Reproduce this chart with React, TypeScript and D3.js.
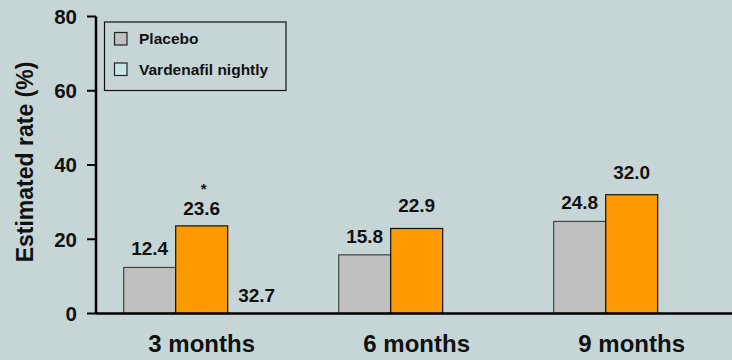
import React from "react";
import * as d3 from "d3";

// Estimated rate (%) by visit, placebo vs. vardenafil nightly
const categories = ["3 months", "6 months", "9 months"];
const seriesNames = ["Placebo", "Vardenafil nightly"];
const placebo = [12.4, 15.8, 24.8];
const vardenafil = [23.6, 22.9, 32.0];
const yTicks = [0, 20, 40, 60, 80];
const extraNote = { category: "3 months", text: "32.7" };
const significance = { category: "3 months", series: "Vardenafil nightly", mark: "*" };

const W = 732;
const H = 360;
const BG = "#c6d6d6";
const barColors = ["#c0c0c0", "#ff9900"];
const legendColors = ["#c0c0c0", "#c8e6e6"];
const FONT = "'Liberation Sans', Arial, Helvetica, sans-serif";

// vertical lift of each value label above its bar, per series
const labelLift = [12, 16];

export default function App() {
  const axisX = 96;
  const y = d3.scaleLinear().domain([0, 80]).range([313.5, 16.5]);
  const x = d3.scaleBand<string>().domain(categories).range([68.2, 713.2]);
  const groupHalf = 52;
  const inner = d3
    .scaleBand<string>()
    .domain(seriesNames)
    .range([-groupHalf, groupHalf]);
  const center = (c: string) => (x(c) ?? 0) + x.bandwidth() / 2;
  const values = [placebo, vardenafil];

  return (
    <svg
      width={W}
      height={H}
      style={{ position: "absolute", left: 0, top: 0, display: "block" }}
      fontFamily={FONT}
    >
      <rect x={0} y={0} width={W} height={H} fill={BG} />

      {/* bars */}
      {seriesNames.map((s, si) =>
        categories.map((c, ci) => {
          const v = values[si][ci];
          const bx = center(c) + (inner(s) ?? 0);
          return (
            <rect
              key={s + c}
              x={bx}
              y={y(v)}
              width={inner.bandwidth()}
              height={y(0) - y(v)}
              fill={barColors[si]}
              stroke={si === 0 ? "#444" : "#111"}
              strokeWidth={1.2}
            />
          );
        })
      )}

      {/* value labels */}
      {seriesNames.map((s, si) =>
        categories.map((c, ci) => {
          const v = values[si][ci];
          const cx = center(c) + (inner(s) ?? 0) + inner.bandwidth() / 2;
          const lift =
            significance.category === c && significance.series === s ? 11 : labelLift[si];
          return (
            <text
              key={"l" + s + c}
              x={cx}
              y={y(v) - lift}
              textAnchor="middle"
              fontSize={19}
              fontWeight="bold"
              fill="#111"
            >
              {v.toFixed(1)}
            </text>
          );
        })
      )}

      {/* significance marker */}
      {(() => {
        const si = seriesNames.indexOf(significance.series);
        const ci = categories.indexOf(significance.category);
        const cx =
          center(significance.category) + (inner(significance.series) ?? 0) + inner.bandwidth() / 2;
        return (
          <text
            x={cx + 2}
            y={y(values[si][ci]) - 32}
            textAnchor="middle"
            fontSize={15}
            fontWeight="bold"
            fill="#111"
          >
            {significance.mark}
          </text>
        );
      })()}

      {/* extra note beside the first group */}
      <text
        x={center(extraNote.category) + groupHalf + inner.bandwidth() / 2 + 3}
        y={y(0) - 12}
        textAnchor="middle"
        fontSize={19}
        fontWeight="bold"
        fill="#111"
      >
        {extraNote.text}
      </text>

      {/* baseline */}
      <line x1={axisX} x2={W} y1={y(0)} y2={y(0)} stroke="#000" strokeWidth={2.5} />

      {/* y axis */}
      <line x1={axisX} x2={axisX} y1={y(80)} y2={y(0)} stroke="#000" strokeWidth={2.5} />
      {yTicks.map((t) => (
        <g key={t}>
          <line x1={axisX - 9} x2={axisX} y1={y(t)} y2={y(t)} stroke="#000" strokeWidth={2} />
          <text
            x={axisX - 19}
            y={y(t)}
            dy="0.36em"
            textAnchor="end"
            fontSize={20.5}
            fontWeight="bold"
            fill="#111"
          >
            {t}
          </text>
        </g>
      ))}

      {/* category labels */}
      {categories.map((c) => (
        <text
          key={c}
          x={center(c) + 26}
          y={351.5}
          textAnchor="middle"
          fontSize={24}
          fontWeight="bold"
          fill="#111"
        >
          {c}
        </text>
      ))}

      {/* y axis title */}
      <text
        transform={`translate(32.5, ${(y(0) + y(80)) / 2 - 3}) rotate(-90)`}
        textAnchor="middle"
        fontSize={23}
        fontWeight="bold"
        fill="#111"
      >
        Estimated rate (%)
      </text>

      {/* legend */}
      <rect x={104.5} y={22} width={181.5} height={68.5} fill="none" stroke="#111" strokeWidth={1.2} />
      {seriesNames.map((s, i) => (
        <g key={"lg" + s} transform={`translate(114.5, ${32.5 + i * 30.5})`}>
          <rect width={12.5} height={12.5} fill={legendColors[i]} stroke="#222" strokeWidth={1.2} />
          <text x={24.5} y={11.5} fontSize={15.5} fontWeight="bold" fill="#111">
            {s}
          </text>
        </g>
      ))}
    </svg>
  );
}
